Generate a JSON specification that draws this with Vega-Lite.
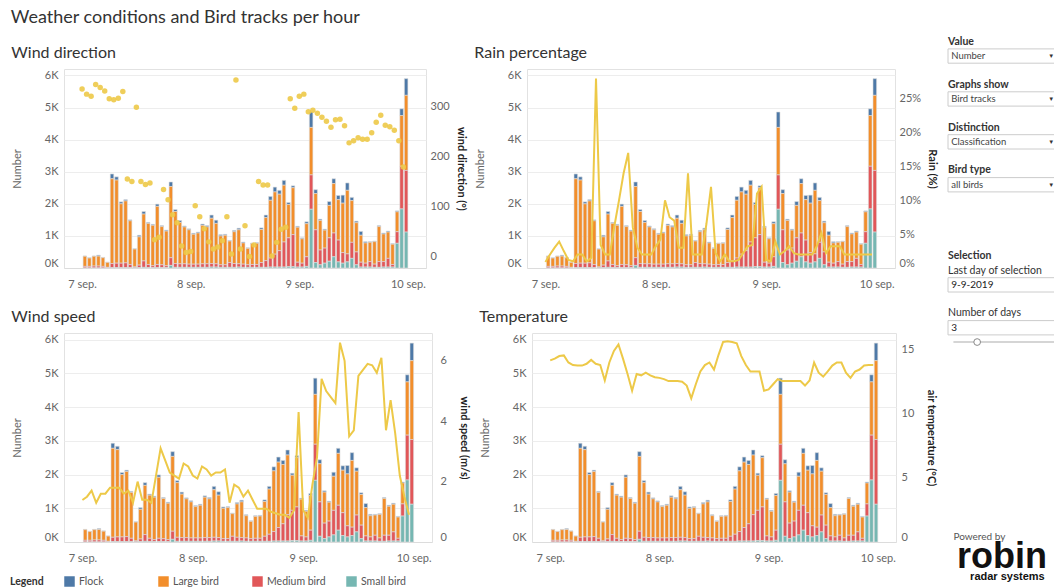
{
"$schema":"https://vega.github.io/schema/vega-lite/v6.json",
"padding":{"left":10,"top":8,"right":0,"bottom":0},
"background":"white",
"datasets":{"d":[
{"t":"2019-09-07T00:00","Flock":10,"Large bird":315,"Medium bird":50,"Small bird":0,"dir":334,"rain":0.9,"ws":1.39,"temp":14.16},
{"t":"2019-09-07T01:00","Flock":10,"Large bird":260,"Medium bird":50,"Small bird":0,"dir":324,"rain":2.0,"ws":1.5,"temp":14.3},
{"t":"2019-09-07T02:00","Flock":10,"Large bird":305,"Medium bird":60,"Small bird":0,"dir":320,"rain":3.0,"ws":1.7,"temp":14.5},
{"t":"2019-09-07T03:00","Flock":30,"Large bird":310,"Medium bird":60,"Small bird":0,"dir":343,"rain":3.9,"ws":1.3,"temp":14.55},
{"t":"2019-09-07T04:00","Flock":10,"Large bird":270,"Medium bird":50,"Small bird":0,"dir":337,"rain":2.5,"ws":1.6,"temp":14.0},
{"t":"2019-09-07T05:00","Flock":5,"Large bird":155,"Medium bird":20,"Small bird":0,"dir":330,"rain":1.2,"ws":1.6,"temp":13.8},
{"t":"2019-09-07T06:00","Flock":150,"Large bird":2640,"Medium bird":130,"Small bird":10,"dir":315,"rain":1.0,"ws":1.8,"temp":13.76},
{"t":"2019-09-07T07:00","Flock":100,"Large bird":2590,"Medium bird":140,"Small bird":10,"dir":313,"rain":2.0,"ws":1.8,"temp":13.76},
{"t":"2019-09-07T08:00","Flock":60,"Large bird":1850,"Medium bird":140,"Small bird":10,"dir":316,"rain":2.0,"ws":1.8,"temp":13.9},
{"t":"2019-09-07T09:00","Flock":40,"Large bird":1930,"Medium bird":150,"Small bird":10,"dir":329,"rain":1.0,"ws":1.6,"temp":14.2},
{"t":"2019-09-07T10:00","Flock":30,"Large bird":1360,"Medium bird":100,"Small bird":10,"dir":155,"rain":1.5,"ws":1.7,"temp":13.9},
{"t":"2019-09-07T11:00","Flock":10,"Large bird":555,"Medium bird":30,"Small bird":5,"dir":150,"rain":28.0,"ws":1.3,"temp":13.8},
{"t":"2019-09-07T12:00","Flock":50,"Large bird":880,"Medium bird":80,"Small bird":10,"dir":298,"rain":3.4,"ws":2.0,"temp":12.6},
{"t":"2019-09-07T13:00","Flock":80,"Large bird":1460,"Medium bird":200,"Small bird":20,"dir":150,"rain":2.0,"ws":1.4,"temp":14.0},
{"t":"2019-09-07T14:00","Flock":30,"Large bird":1280,"Medium bird":100,"Small bird":10,"dir":144,"rain":2.0,"ws":1.4,"temp":14.9},
{"t":"2019-09-07T15:00","Flock":30,"Large bird":1260,"Medium bird":60,"Small bird":10,"dir":147,"rain":6.2,"ws":1.3,"temp":15.4},
{"t":"2019-09-07T16:00","Flock":70,"Large bird":1810,"Medium bird":100,"Small bird":10,"dir":34,"rain":10,"ws":2.2,"temp":14.3},
{"t":"2019-09-07T17:00","Flock":30,"Large bird":1190,"Medium bird":90,"Small bird":10,"dir":39,"rain":14,"ws":3.1,"temp":13.1},
{"t":"2019-09-07T18:00","Flock":30,"Large bird":1080,"Medium bird":60,"Small bird":10,"dir":134,"rain":17,"ws":2.7,"temp":11.8},
{"t":"2019-09-07T19:00","Flock":140,"Large bird":2220,"Medium bird":240,"Small bird":80,"dir":114,"rain":6,"ws":2.3,"temp":13.1},
{"t":"2019-09-07T20:00","Flock":60,"Large bird":1620,"Medium bird":120,"Small bird":20,"dir":84,"rain":3,"ws":2.2,"temp":13.0},
{"t":"2019-09-07T21:00","Flock":60,"Large bird":1290,"Medium bird":110,"Small bird":20,"dir":68,"rain":2,"ws":2.1,"temp":13.2},
{"t":"2019-09-07T22:00","Flock":30,"Large bird":1150,"Medium bird":110,"Small bird":20,"dir":22,"rain":2,"ws":2.6,"temp":13.0},
{"t":"2019-09-07T23:00","Flock":30,"Large bird":1070,"Medium bird":100,"Small bird":20,"dir":9,"rain":2,"ws":2.5,"temp":12.85},
{"t":"2019-09-08T00:00","Flock":30,"Large bird":930,"Medium bird":100,"Small bird":20,"dir":11,"rain":3.2,"ws":2.2,"temp":12.8},
{"t":"2019-09-08T01:00","Flock":30,"Large bird":970,"Medium bird":100,"Small bird":20,"dir":102,"rain":4.2,"ws":2.1,"temp":12.7},
{"t":"2019-09-08T02:00","Flock":40,"Large bird":1200,"Medium bird":110,"Small bird":20,"dir":80,"rain":10,"ws":2.5,"temp":12.55},
{"t":"2019-09-08T03:00","Flock":40,"Large bird":1150,"Medium bird":110,"Small bird":20,"dir":56,"rain":7.5,"ws":2.4,"temp":12.55},
{"t":"2019-09-08T04:00","Flock":100,"Large bird":1410,"Medium bird":110,"Small bird":30,"dir":30,"rain":7,"ws":2.2,"temp":12.55},
{"t":"2019-09-08T05:00","Flock":100,"Large bird":1260,"Medium bird":100,"Small bird":30,"dir":16,"rain":3,"ws":2.3,"temp":12.5},
{"t":"2019-09-08T06:00","Flock":40,"Large bird":900,"Medium bird":80,"Small bird":20,"dir":20,"rain":3,"ws":2.3,"temp":12.2},
{"t":"2019-09-08T07:00","Flock":30,"Large bird":920,"Medium bird":80,"Small bird":20,"dir":32,"rain":14,"ws":2.4,"temp":11.2},
{"t":"2019-09-08T08:00","Flock":20,"Large bird":670,"Medium bird":150,"Small bird":20,"dir":80,"rain":2,"ws":1.3,"temp":12.3},
{"t":"2019-09-08T09:00","Flock":40,"Large bird":990,"Medium bird":120,"Small bird":20,"dir":6,"rain":2,"ws":1.9,"temp":13.3},
{"t":"2019-09-08T10:00","Flock":50,"Large bird":1060,"Medium bird":100,"Small bird":30,"dir":352,"rain":2,"ws":1.8,"temp":13.8},
{"t":"2019-09-08T11:00","Flock":30,"Large bird":660,"Medium bird":100,"Small bird":20,"dir":16,"rain":6.5,"ws":1.5,"temp":14.0},
{"t":"2019-09-08T12:00","Flock":20,"Large bird":510,"Medium bird":80,"Small bird":20,"dir":62,"rain":12,"ws":1.7,"temp":13.45},
{"t":"2019-09-08T13:00","Flock":20,"Large bird":650,"Medium bird":90,"Small bird":20,"dir":1,"rain":2.2,"ws":1.4,"temp":14.6},
{"t":"2019-09-08T14:00","Flock":20,"Large bird":660,"Medium bird":90,"Small bird":20,"dir":24,"rain":1.0,"ws":1.1,"temp":15.6},
{"t":"2019-09-08T15:00","Flock":50,"Large bird":1030,"Medium bird":150,"Small bird":20,"dir":150,"rain":2.0,"ws":1.1,"temp":15.65},
{"t":"2019-09-08T16:00","Flock":80,"Large bird":1340,"Medium bird":210,"Small bird":20,"dir":143,"rain":1.0,"ws":1.1,"temp":15.6},
{"t":"2019-09-08T17:00","Flock":120,"Large bird":1800,"Medium bird":280,"Small bird":30,"dir":143,"rain":1.0,"ws":1.0,"temp":15.5},
{"t":"2019-09-08T18:00","Flock":150,"Large bird":1940,"Medium bird":400,"Small bird":30,"dir":2,"rain":1.2,"ws":0.95,"temp":14.5},
{"t":"2019-09-08T19:00","Flock":120,"Large bird":1760,"Medium bird":510,"Small bird":30,"dir":29,"rain":2.2,"ws":0.9,"temp":13.8},
{"t":"2019-09-08T20:00","Flock":150,"Large bird":1770,"Medium bird":780,"Small bird":30,"dir":55,"rain":3.2,"ws":0.9,"temp":13.3},
{"t":"2019-09-08T21:00","Flock":60,"Large bird":1040,"Medium bird":900,"Small bird":40,"dir":59,"rain":3.4,"ws":0.8,"temp":13.3},
{"t":"2019-09-08T22:00","Flock":60,"Large bird":1460,"Medium bird":1000,"Small bird":40,"dir":315,"rain":11,"ws":1.05,"temp":13.3},
{"t":"2019-09-08T23:00","Flock":30,"Large bird":1090,"Medium bird":150,"Small bird":30,"dir":296,"rain":12,"ws":4.3,"temp":11.8},
{"t":"2019-09-09T00:00","Flock":30,"Large bird":760,"Medium bird":120,"Small bird":30,"dir":320,"rain":1.2,"ws":1.05,"temp":11.9},
{"t":"2019-09-09T01:00","Flock":60,"Large bird":1030,"Medium bird":300,"Small bird":50,"dir":324,"rain":1.0,"ws":0.8,"temp":12.3},
{"t":"2019-09-09T02:00","Flock":480,"Large bird":1480,"Medium bird":1070,"Small bird":1830,"dir":289,"rain":3.9,"ws":1.9,"temp":12.7},
{"t":"2019-09-09T03:00","Flock":120,"Large bird":1130,"Medium bird":1020,"Small bird":170,"dir":292,"rain":2.0,"ws":2.8,"temp":12.55},
{"t":"2019-09-09T04:00","Flock":40,"Large bird":920,"Medium bird":460,"Small bird":100,"dir":286,"rain":2.5,"ws":5.4,"temp":12.55},
{"t":"2019-09-09T05:00","Flock":30,"Large bird":560,"Medium bird":470,"Small bird":150,"dir":278,"rain":3.2,"ws":5.0,"temp":12.55},
{"t":"2019-09-09T06:00","Flock":120,"Large bird":1010,"Medium bird":730,"Small bird":210,"dir":270,"rain":2.2,"ws":4.8,"temp":12.55},
{"t":"2019-09-09T07:00","Flock":150,"Large bird":1540,"Medium bird":740,"Small bird":350,"dir":258,"rain":2.0,"ws":4.6,"temp":12.55},
{"t":"2019-09-09T08:00","Flock":130,"Large bird":1260,"Medium bird":680,"Small bird":190,"dir":273,"rain":2.0,"ws":6.6,"temp":12.2},
{"t":"2019-09-09T09:00","Flock":250,"Large bird":1540,"Medium bird":330,"Small bird":150,"dir":274,"rain":2.0,"ws":6.0,"temp":12.6},
{"t":"2019-09-09T10:00","Flock":230,"Large bird":1980,"Medium bird":250,"Small bird":190,"dir":261,"rain":2.0,"ws":3.5,"temp":14.0},
{"t":"2019-09-09T11:00","Flock":100,"Large bird":1300,"Medium bird":500,"Small bird":300,"dir":227,"rain":3.2,"ws":3.7,"temp":13.2},
{"t":"2019-09-09T12:00","Flock":50,"Large bird":910,"Medium bird":400,"Small bird":100,"dir":231,"rain":5.2,"ws":5.5,"temp":12.9},
{"t":"2019-09-09T13:00","Flock":120,"Large bird":840,"Medium bird":150,"Small bird":30,"dir":237,"rain":2.2,"ws":5.7,"temp":13.3},
{"t":"2019-09-09T14:00","Flock":40,"Large bird":630,"Medium bird":120,"Small bird":30,"dir":234,"rain":3.2,"ws":5.9,"temp":13.76},
{"t":"2019-09-09T15:00","Flock":20,"Large bird":600,"Medium bird":170,"Small bird":30,"dir":234,"rain":3.2,"ws":5.85,"temp":14.0},
{"t":"2019-09-09T16:00","Flock":20,"Large bird":700,"Medium bird":100,"Small bird":20,"dir":247,"rain":3.2,"ws":5.6,"temp":14.0},
{"t":"2019-09-09T17:00","Flock":30,"Large bird":1090,"Medium bird":180,"Small bird":20,"dir":268,"rain":2.0,"ws":6.1,"temp":13.2},
{"t":"2019-09-09T18:00","Flock":30,"Large bird":860,"Medium bird":170,"Small bird":30,"dir":282,"rain":2.0,"ws":3.7,"temp":12.8},
{"t":"2019-09-09T19:00","Flock":30,"Large bird":820,"Medium bird":270,"Small bird":30,"dir":262,"rain":2.0,"ws":4.7,"temp":13.3},
{"t":"2019-09-09T20:00","Flock":20,"Large bird":630,"Medium bird":80,"Small bird":30,"dir":259,"rain":2.0,"ws":3.6,"temp":13.45},
{"t":"2019-09-09T21:00","Flock":30,"Large bird":620,"Medium bird":360,"Small bird":770,"dir":252,"rain":2.0,"ws":2.2,"temp":13.76},
{"t":"2019-09-09T22:00","Flock":210,"Large bird":1580,"Medium bird":1330,"Small bird":1840,"dir":231,"rain":2.0,"ws":1.5,"temp":13.8},
{"t":"2019-09-09T23:00","Flock":520,"Large bird":2340,"Medium bird":1920,"Small bird":1120,"dir":179,"rain":2.0,"ws":0.9,"temp":13.8}
]},
"config":{
 "font":"Lato",
 "view":{"stroke":"#e2e2e2"},
 "axis":{"labelFont":"Lato","titleFont":"Lato","labelFontSize":11,"labelColor":"#666666","titleFontSize":11,"titleColor":"#666666","titleFontWeight":"normal","ticks":false,"gridColor":"#ededed","domainColor":"#dcdcdc"},
 "title":{"font":"Lato","fontSize":16,"fontWeight":"normal","color":"#333333","anchor":"start","frame":"bounds","offset":8},
 "legend":{"labelFont":"Lato","titleFont":"Lato"}
},
"resolve":{"scale":{"color":"shared"},"legend":{"color":"shared"}},
"hconcat":[
{
 "title":{"text":"Weather conditions and Bird tracks per hour","fontSize":18,"offset":18,"color":"#333333"},
 "spacing":18,
 "resolve":{"scale":{"color":"shared"},"legend":{"color":"shared"}},
 "vconcat":[
 {"spacing":6,
  "resolve":{"scale":{"color":"shared"},"legend":{"color":"shared"}},
  "hconcat":[
  {"title":"Wind direction","width":362,"height":199,"data":{"name":"d"},
   "layer":[
    {"transform":[{"fold":["Flock","Large bird","Medium bird","Small bird"],"as":["type","n"]}],
     "mark":{"type":"bar","stroke":"#dddddd","strokeWidth":0.6},
     "encoding":{
      "x":{"field":"t","timeUnit":"yearmonthdatehours","type":"temporal","scale":{"domain":[{"year":2019,"month":9,"date":6,"hours":20},{"year":2019,"month":9,"date":10,"hours":4}]},"axis":{"title":null,"values":[{"year":2019,"month":9,"date":7},{"year":2019,"month":9,"date":8},{"year":2019,"month":9,"date":9},{"year":2019,"month":9,"date":10}],"labelExpr":"date(datum.value) + ' sep.'","grid":false,"domain":true,"labelPadding":10,"labelFlush":false}},
      "y":{"field":"n","type":"quantitative","stack":"zero","scale":{"domain":[0,6200],"nice":false},"axis":{"title":"Number","values":[0,1000,2000,3000,4000,5000,6000],"labelExpr":"datum.value/1000 + 'K'","grid":true,"domain":false,"labelFlush":true,"titlePadding":22,"labelPadding":6}},
      "color":{"field":"type","type":"nominal","scale":{"domain":["Flock","Large bird","Medium bird","Small bird"],"range":["#4e79a7","#f28e2b","#e15759","#76b7b2"]},"legend":{"title":"Legend","orient":"none","legendX":-54,"legendY":507,"direction":"horizontal","columns":4,"gridAlign":"all","titleOrient":"left","titleFontWeight":"bold","titleColor":"#333333","titleFontSize":10.5,"titlePadding":20,"symbolType":"square","symbolSize":110,"symbolStrokeWidth":0,"labelFontSize":10.5,"labelColor":"#555555","columnPadding":20}},
      "order":{"field":"type","sort":"descending"}
     }},
    {"mark":{"type":"circle","size":30,"color":"#edc948","opacity":0.9},
     "encoding":{
      "x":{"field":"t","type":"temporal","axis":{"title":null,"values":[{"year":2019,"month":9,"date":7},{"year":2019,"month":9,"date":8},{"year":2019,"month":9,"date":9},{"year":2019,"month":9,"date":10}],"labelExpr":"date(datum.value) + ' sep.'","grid":false,"domain":true,"labelPadding":10,"labelFlush":false}},
      "y":{"field":"dir","type":"quantitative","scale":{"domain":[-22,374],"nice":false},"axis":{"orient":"right","title":"wind direction (°)","titleColor":"#222222","titleFontWeight":"bold","values":[0,100,200,300],"grid":false,"domain":false,"labelFlush":true,"labelPadding":4,"titlePadding":6}}
     }}
   ],
   "resolve":{"scale":{"y":"independent"}}},
  {"title":"Rain percentage","width":368,"height":199,"data":{"name":"d"},
   "layer":[
    {"transform":[{"fold":["Flock","Large bird","Medium bird","Small bird"],"as":["type","n"]}],
     "mark":{"type":"bar","stroke":"#dddddd","strokeWidth":0.6},
     "encoding":{
      "x":{"field":"t","timeUnit":"yearmonthdatehours","type":"temporal","scale":{"domain":[{"year":2019,"month":9,"date":6,"hours":20},{"year":2019,"month":9,"date":10,"hours":4}]},"axis":{"title":null,"values":[{"year":2019,"month":9,"date":7},{"year":2019,"month":9,"date":8},{"year":2019,"month":9,"date":9},{"year":2019,"month":9,"date":10}],"labelExpr":"date(datum.value) + ' sep.'","grid":false,"domain":true,"labelPadding":10,"labelFlush":false}},
      "y":{"field":"n","type":"quantitative","stack":"zero","scale":{"domain":[0,6200],"nice":false},"axis":{"title":"Number","values":[0,1000,2000,3000,4000,5000,6000],"labelExpr":"datum.value/1000 + 'K'","grid":true,"domain":false,"labelFlush":true,"titlePadding":22,"labelPadding":6}},
      "color":{"field":"type","type":"nominal","scale":{"domain":["Flock","Large bird","Medium bird","Small bird"],"range":["#4e79a7","#f28e2b","#e15759","#76b7b2"]},"legend":{"title":"Legend","orient":"none","legendX":-54,"legendY":507,"direction":"horizontal","columns":4,"gridAlign":"all","titleOrient":"left","titleFontWeight":"bold","titleColor":"#333333","titleFontSize":10.5,"titlePadding":20,"symbolType":"square","symbolSize":110,"symbolStrokeWidth":0,"labelFontSize":10.5,"labelColor":"#555555","columnPadding":20}},
      "order":{"field":"type","sort":"descending"}
     }},
    {"mark":{"type":"line","color":"#edc948","strokeWidth":2},
     "encoding":{
      "x":{"field":"t","type":"temporal","axis":{"title":null,"values":[{"year":2019,"month":9,"date":7},{"year":2019,"month":9,"date":8},{"year":2019,"month":9,"date":9},{"year":2019,"month":9,"date":10}],"labelExpr":"date(datum.value) + ' sep.'","grid":false,"domain":true,"labelPadding":10,"labelFlush":false}},
      "y":{"field":"rain","type":"quantitative","scale":{"domain":[0,29.4],"nice":false},"axis":{"orient":"right","title":"Rain (%)","titleColor":"#222222","titleFontWeight":"bold","values":[0,5,10,15,20,25],"labelExpr":"datum.value + '%'","grid":false,"domain":false,"labelFlush":true,"labelPadding":4,"titlePadding":6}}
     }}
   ],
   "resolve":{"scale":{"y":"independent"}}}
 ]},
 {"spacing":8,
  "resolve":{"scale":{"color":"shared"},"legend":{"color":"shared"}},
  "hconcat":[
  {"title":"Wind speed","width":368,"height":209,"data":{"name":"d"},
   "layer":[
    {"transform":[{"fold":["Flock","Large bird","Medium bird","Small bird"],"as":["type","n"]}],
     "mark":{"type":"bar","stroke":"#dddddd","strokeWidth":0.6},
     "encoding":{
      "x":{"field":"t","timeUnit":"yearmonthdatehours","type":"temporal","scale":{"domain":[{"year":2019,"month":9,"date":6,"hours":20},{"year":2019,"month":9,"date":10,"hours":4}]},"axis":{"title":null,"values":[{"year":2019,"month":9,"date":7},{"year":2019,"month":9,"date":8},{"year":2019,"month":9,"date":9},{"year":2019,"month":9,"date":10}],"labelExpr":"date(datum.value) + ' sep.'","grid":false,"domain":true,"labelPadding":10,"labelFlush":false}},
      "y":{"field":"n","type":"quantitative","stack":"zero","scale":{"domain":[0,6200],"nice":false},"axis":{"title":"Number","values":[0,1000,2000,3000,4000,5000,6000],"labelExpr":"datum.value/1000 + 'K'","grid":true,"domain":false,"labelFlush":true,"titlePadding":22,"labelPadding":6}},
      "color":{"field":"type","type":"nominal","scale":{"domain":["Flock","Large bird","Medium bird","Small bird"],"range":["#4e79a7","#f28e2b","#e15759","#76b7b2"]},"legend":{"title":"Legend","orient":"none","legendX":-54,"legendY":507,"direction":"horizontal","columns":4,"gridAlign":"all","titleOrient":"left","titleFontWeight":"bold","titleColor":"#333333","titleFontSize":10.5,"titlePadding":20,"symbolType":"square","symbolSize":110,"symbolStrokeWidth":0,"labelFontSize":10.5,"labelColor":"#555555","columnPadding":20}},
      "order":{"field":"type","sort":"descending"}
     }},
    {"mark":{"type":"line","color":"#edc948","strokeWidth":2},
     "encoding":{
      "x":{"field":"t","type":"temporal","axis":{"title":null,"values":[{"year":2019,"month":9,"date":7},{"year":2019,"month":9,"date":8},{"year":2019,"month":9,"date":9},{"year":2019,"month":9,"date":10}],"labelExpr":"date(datum.value) + ' sep.'","grid":false,"domain":true,"labelPadding":10,"labelFlush":false}},
      "y":{"field":"ws","type":"quantitative","scale":{"domain":[0,6.92],"nice":false},"axis":{"orient":"right","title":"wind speed (m/s)","titleColor":"#222222","titleFontWeight":"bold","values":[0,2,4,6],"grid":false,"domain":false,"labelFlush":true,"labelPadding":8,"titlePadding":12}}
     }}
   ],
   "resolve":{"scale":{"y":"independent"}}},
  {"title":"Temperature","width":364,"height":209,"data":{"name":"d"},
   "layer":[
    {"transform":[{"fold":["Flock","Large bird","Medium bird","Small bird"],"as":["type","n"]}],
     "mark":{"type":"bar","stroke":"#dddddd","strokeWidth":0.6},
     "encoding":{
      "x":{"field":"t","timeUnit":"yearmonthdatehours","type":"temporal","scale":{"domain":[{"year":2019,"month":9,"date":6,"hours":20},{"year":2019,"month":9,"date":10,"hours":4}]},"axis":{"title":null,"values":[{"year":2019,"month":9,"date":7},{"year":2019,"month":9,"date":8},{"year":2019,"month":9,"date":9},{"year":2019,"month":9,"date":10}],"labelExpr":"date(datum.value) + ' sep.'","grid":false,"domain":true,"labelPadding":10,"labelFlush":false}},
      "y":{"field":"n","type":"quantitative","stack":"zero","scale":{"domain":[0,6200],"nice":false},"axis":{"title":"Number","values":[0,1000,2000,3000,4000,5000,6000],"labelExpr":"datum.value/1000 + 'K'","grid":true,"domain":false,"labelFlush":true,"titlePadding":22,"labelPadding":6}},
      "color":{"field":"type","type":"nominal","scale":{"domain":["Flock","Large bird","Medium bird","Small bird"],"range":["#4e79a7","#f28e2b","#e15759","#76b7b2"]},"legend":{"title":"Legend","orient":"none","legendX":-54,"legendY":507,"direction":"horizontal","columns":4,"gridAlign":"all","titleOrient":"left","titleFontWeight":"bold","titleColor":"#333333","titleFontSize":10.5,"titlePadding":20,"symbolType":"square","symbolSize":110,"symbolStrokeWidth":0,"labelFontSize":10.5,"labelColor":"#555555","columnPadding":20}},
      "order":{"field":"type","sort":"descending"}
     }},
    {"mark":{"type":"line","color":"#edc948","strokeWidth":2},
     "encoding":{
      "x":{"field":"t","type":"temporal","axis":{"title":null,"values":[{"year":2019,"month":9,"date":7},{"year":2019,"month":9,"date":8},{"year":2019,"month":9,"date":9},{"year":2019,"month":9,"date":10}],"labelExpr":"date(datum.value) + ' sep.'","grid":false,"domain":true,"labelPadding":10,"labelFlush":false}},
      "y":{"field":"temp","type":"quantitative","scale":{"domain":[0,16.3],"nice":false},"axis":{"orient":"right","title":"air temperature (°C)","titleColor":"#222222","titleFontWeight":"bold","values":[0,5,10,15],"grid":false,"domain":false,"labelFlush":true,"labelPadding":5,"titlePadding":12}}
     }}
   ],
   "resolve":{"scale":{"y":"independent"}}}
 ]}
 ]
},
{
 "width":108,"height":500,
 "view":{"stroke":null},
 "data":{"values":[
  {"slot":"Value","txt":"Value","k":"h"},
  {"slot":"b1","txt":"Number","k":"box"},
  {"slot":"Graphs show","txt":"Graphs show","k":"h"},
  {"slot":"b2","txt":"Bird tracks","k":"box"},
  {"slot":"Distinction","txt":"Distinction","k":"h"},
  {"slot":"b3","txt":"Classification","k":"box"},
  {"slot":"Bird type","txt":"Bird type","k":"h"},
  {"slot":"b4","txt":"all birds","k":"box"},
  {"slot":"Selection","txt":"Selection","k":"h"},
  {"slot":"Last day of selection","txt":"Last day of selection","k":"h2"},
  {"slot":"b5","txt":"9-9-2019","k":"box2"},
  {"slot":"Number of days","txt":"Number of days","k":"h2"},
  {"slot":"b6","txt":"3","k":"box2"},
  {"slot":"slider","txt":"","k":"slider"},
  {"slot":"pb","txt":"Powered by","k":"pb"},
  {"slot":"robin","txt":"robin","k":"logo"},
  {"slot":"rs","txt":"radar systems","k":"rs"}
 ]},
 "layer":[
  {"transform":[{"filter":"datum.k == 'box' || datum.k == 'box2'"}],
   "mark":{"type":"rect","fill":"white","stroke":"#cccccc","strokeWidth":1},
   "encoding":{
    "x":{"datum":0,"type":"quantitative","scale":{"domain":[0,1],"nice":false},"axis":null},
    "x2":{"datum":1},
    "y":{"field":"slot","type":"ordinal","scale":{"domain":["s0","s1","Value","b1","s4","Graphs show","b2","s7","Distinction","b3","s10","Bird type","b4","s13","s14","s15","s16","Selection","Last day of selection","b5","s20","Number of days","b6","slider","s24","s25","s26","s27","s28","s29","s30","s31","s32","s33","s34","s35","s36","pb","robin","rs"],"range":[-63,509],"paddingInner":0,"paddingOuter":0},"axis":null}
   }},
  {"transform":[{"filter":"datum.k == 'box'"}],
   "mark":{"type":"text","align":"left","fontSize":9.5,"color":"#444444","font":"Lato"},
   "encoding":{"x":{"datum":0.03,"type":"quantitative"},"y":{"field":"slot","type":"ordinal"},"text":{"field":"txt"}}},
  {"transform":[{"filter":"datum.k == 'box2'"}],
   "mark":{"type":"text","align":"left","fontSize":10,"color":"#222222","font":"Lato"},
   "encoding":{"x":{"datum":0.03,"type":"quantitative"},"y":{"field":"slot","type":"ordinal"},"text":{"field":"txt"}}},
  {"transform":[{"filter":"datum.k == 'box'"}],
   "mark":{"type":"text","align":"center","fontSize":6,"color":"#333333"},
   "encoding":{"x":{"datum":0.955,"type":"quantitative"},"y":{"field":"slot","type":"ordinal"},"text":{"value":"▼"}}},
  {"transform":[{"filter":"datum.k == 'h'"}],
   "mark":{"type":"text","align":"left","fontSize":10.5,"fontWeight":"bold","color":"#333333","font":"Lato"},
   "encoding":{"x":{"datum":0,"type":"quantitative"},"y":{"field":"slot","type":"ordinal"},"text":{"field":"txt"}}},
  {"transform":[{"filter":"datum.k == 'h2'"}],
   "mark":{"type":"text","align":"left","fontSize":10.5,"color":"#333333","font":"Lato"},
   "encoding":{"x":{"datum":0,"type":"quantitative"},"y":{"field":"slot","type":"ordinal"},"text":{"field":"txt"}}},
  {"transform":[{"filter":"datum.k == 'slider'"}],
   "mark":{"type":"rule","color":"#d5d5d5","strokeWidth":2},
   "encoding":{"x":{"datum":0.05,"type":"quantitative"},"x2":{"datum":1},"y":{"field":"slot","type":"ordinal"}}},
  {"transform":[{"filter":"datum.k == 'slider'"}],
   "mark":{"type":"point","shape":"circle","filled":true,"fill":"white","stroke":"#888888","strokeWidth":1,"size":45,"opacity":1},
   "encoding":{"x":{"datum":0.27,"type":"quantitative"},"y":{"field":"slot","type":"ordinal"}}},
  {"transform":[{"filter":"datum.k == 'pb'"}],
   "mark":{"type":"text","align":"left","baseline":"bottom","fontSize":10,"color":"#555555","font":"Lato"},
   "encoding":{"x":{"datum":0.05,"type":"quantitative"},"y":{"field":"slot","type":"ordinal"},"text":{"field":"txt"}}},
  {"transform":[{"filter":"datum.k == 'logo'"}],
   "mark":{"type":"text","align":"center","baseline":"middle","fontSize":36,"fontWeight":"bold","color":"#111111","font":"Liberation Sans"},
   "encoding":{"x":{"datum":0.5,"type":"quantitative"},"y":{"field":"slot","type":"ordinal"},"text":{"field":"txt"}}},
  {"transform":[{"filter":"datum.k == 'rs'"}],
   "mark":{"type":"text","align":"center","baseline":"top","fontSize":11,"fontWeight":"bold","color":"#111111","font":"Liberation Sans"},
   "encoding":{"x":{"datum":0.55,"type":"quantitative"},"y":{"field":"slot","type":"ordinal"},"text":{"field":"txt"}}}
 ]
}
],
"spacing":8
}
